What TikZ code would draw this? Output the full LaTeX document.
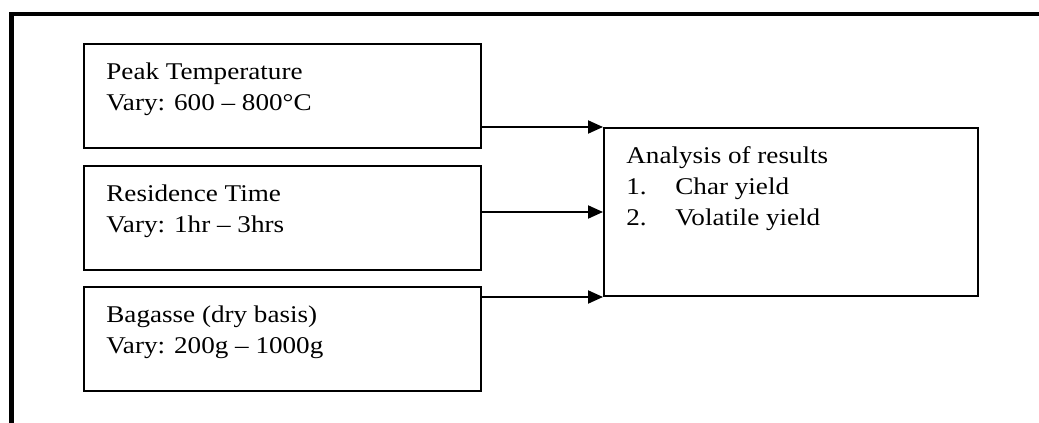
\documentclass[tikz,border=0pt]{standalone}
\usepackage{fontspec}
\setmainfont{Liberation Serif}[FakeStretch=1.13]
\usetikzlibrary{positioning,arrows.meta}
\tikzstyle{flowChart} = [x = 0.5pt, y = -0.5pt]
\tikzstyle{boxStyle} = [draw=black, line width=1pt, minimum width=198.5pt, minimum height=52pt, inner sep=0pt]
\tikzstyle{boxText} = [anchor=base west, align=left, inner sep=0pt, font=\fontsize{12}{15.5}\selectfont]
\tikzstyle{flowArrow} = [line width=1pt, -{Triangle[length=7.5pt, width=6.5pt]}]
\tikzstyle{frameLine} = [line width=2.2pt]
% base of a multi-line node is its last line: #2 = number of lines
\newcommand{\boxLabel}[3]{\node [boxText] (#1Text) at ([shift={(23, 36 + 31 * (#2 - 1))}]#1.north west) {#3};}
\newcommand{\itemNo}[1]{\makebox[24.5pt][l]{#1}}

\begin{document}
\begin{tikzpicture}[flowChart]
  \useasboundingbox (0,0) rectangle (1039,423);
  % frame (cut at the page edges)
  \draw [frameLine] (11.5,423) -- (11.5,14) -- (1039,14);

  % inputs
  \node [boxStyle, anchor=north west] (temp) at (83,43) {};
  \node [boxStyle, below=8pt of temp] (time) {};
  \node [boxStyle, below=7.5pt of time] (mass) {};
  \boxLabel{temp}{2}{Peak Temperature\\Vary: 600 -- 800°C}
  \boxLabel{time}{2}{Residence Time\\Vary: 1hr -- 3hrs}
  \boxLabel{mass}{2}{Bagasse (dry basis)\\Vary: 200g -- 1000g}

  % output
  \node [boxStyle, anchor=north west, minimum width=187pt, minimum height=84pt] (result) at (603,127) {};
  \boxLabel{result}{3}{Analysis of results\\\itemNo{1.}Char yield\\\itemNo{2.}Volatile yield}

  \draw [flowArrow] (result.north west -| temp.east) -- (result.north west);
  \draw [flowArrow] (result.west -| time.east) -- (result.west);
  \draw [flowArrow] (result.south west -| mass.east) -- (result.south west);
\end{tikzpicture}
\end{document}
